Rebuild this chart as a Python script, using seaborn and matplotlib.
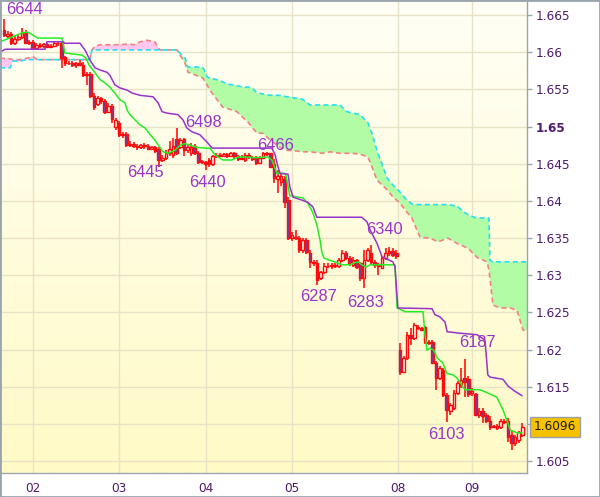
import numpy as np
import matplotlib
matplotlib.use("Agg")
import matplotlib.pyplot as plt
import matplotlib.transforms as mtransforms
from matplotlib.colors import LinearSegmentedColormap
from matplotlib.patches import Rectangle
import seaborn as sns

# hourly candles, bar index 0..144
opens = [1.6630, 1.6622, 1.6624, 1.6612, 1.6618, 1.6620, 1.6626, 1.6613, 1.6614, 1.6606,
         1.6610, 1.6608, 1.6611, 1.6607, 1.6609, 1.6612, 1.6612, 1.6593, 1.6585, 1.6586,
         1.6583, 1.6585, 1.6583, 1.6569, 1.6571, 1.6541, 1.6530, 1.6538, 1.6534, 1.6520,
         1.6528, 1.6500, 1.6505, 1.6488, 1.6490, 1.6475, 1.6477, 1.6474, 1.6472, 1.6475,
         1.6474, 1.6470, 1.6472, 1.6470, 1.6455, 1.6458, 1.6465, 1.6462, 1.6483, 1.6472,
         1.6483, 1.6468, 1.6464, 1.6474, 1.6465, 1.6452, 1.6452, 1.6455, 1.6449, 1.6460,
         1.6462, 1.6461, 1.6463, 1.6461, 1.6464, 1.6460, 1.6456, 1.6455, 1.6462, 1.6459,
         1.6458, 1.6451, 1.6458, 1.6464, 1.6465, 1.6450, 1.6430, 1.6426, 1.6430, 1.6401,
         1.6350, 1.6352, 1.6350, 1.6334, 1.6347, 1.6330, 1.6318, 1.6317, 1.6296, 1.6304,
         1.6313, 1.6312, 1.6314, 1.6312, 1.6320, 1.6330, 1.6323, 1.6314, 1.6320, 1.6316,
         1.6296, 1.6320, 1.6330, 1.6318, 1.6314, 1.6310, 1.6323, 1.6330, 1.6332, 1.6330,
         1.6199, 1.6170, 1.6189, 1.6220, 1.6216, 1.6231, 1.6229, 1.6230, 1.6210, 1.6210,
         1.6182, 1.6162, 1.6172, 1.6139, 1.6118, 1.6122, 1.6142, 1.6152, 1.6162, 1.6161,
         1.6142, 1.6140, 1.6112, 1.6118, 1.6112, 1.6104, 1.6097, 1.6095, 1.6096, 1.6104,
         1.6104, 1.6085, 1.6075, 1.6078, 1.6085]
highs = [1.6644, 1.6628, 1.6627, 1.6622, 1.6624, 1.6632, 1.6630, 1.6617, 1.6616, 1.6612,
         1.6612, 1.6613, 1.6613, 1.6611, 1.6614, 1.6615, 1.6614, 1.6595, 1.6588, 1.6588,
         1.6587, 1.6590, 1.6587, 1.6573, 1.6573, 1.6545, 1.6541, 1.6540, 1.6537, 1.6531,
         1.6530, 1.6512, 1.6508, 1.6493, 1.6492, 1.6480, 1.6479, 1.6476, 1.6477, 1.6478,
         1.6476, 1.6474, 1.6474, 1.6472, 1.6462, 1.6468, 1.6480, 1.6484, 1.6498, 1.6485,
         1.6485, 1.6475, 1.6478, 1.6476, 1.6467, 1.6455, 1.6454, 1.6458, 1.6462, 1.6464,
         1.6464, 1.6465, 1.6465, 1.6466, 1.6466, 1.6462, 1.6462, 1.6464, 1.6464, 1.6461,
         1.6460, 1.6460, 1.6466, 1.6466, 1.6465, 1.6456, 1.6441, 1.6436, 1.6433, 1.6405,
         1.6358, 1.6361, 1.6353, 1.6350, 1.6350, 1.6334, 1.6321, 1.6320, 1.6306, 1.6316,
         1.6316, 1.6316, 1.6316, 1.6323, 1.6334, 1.6333, 1.6326, 1.6324, 1.6322, 1.6318,
         1.6334, 1.6337, 1.6340, 1.6320, 1.6316, 1.6326, 1.6337, 1.6338, 1.6336, 1.6334,
         1.6209, 1.6192, 1.6224, 1.6229, 1.6236, 1.6233, 1.6231, 1.6232, 1.6213, 1.6213,
         1.6185, 1.6178, 1.6175, 1.6142, 1.6128, 1.6146, 1.6158, 1.6175, 1.6188, 1.6165,
         1.6148, 1.6142, 1.6122, 1.6121, 1.6115, 1.6111, 1.6099, 1.6100, 1.6107, 1.6106,
         1.6108, 1.6090, 1.6085, 1.6091, 1.6101]
lows = [1.6620, 1.6618, 1.6610, 1.6610, 1.6615, 1.6618, 1.6611, 1.6610, 1.6604, 1.6604,
        1.6606, 1.6606, 1.6605, 1.6605, 1.6607, 1.6609, 1.6579, 1.6582, 1.6583, 1.6580,
        1.6579, 1.6581, 1.6566, 1.6556, 1.6538, 1.6522, 1.6527, 1.6530, 1.6517, 1.6518,
        1.6505, 1.6496, 1.6486, 1.6485, 1.6472, 1.6473, 1.6471, 1.6469, 1.6470, 1.6470,
        1.6468, 1.6468, 1.6465, 1.6445, 1.6452, 1.6455, 1.6460, 1.6458, 1.6462, 1.6470,
        1.6460, 1.6465, 1.6461, 1.6462, 1.6450, 1.6449, 1.6441, 1.6446, 1.6447, 1.6458,
        1.6459, 1.6459, 1.6458, 1.6459, 1.6457, 1.6454, 1.6455, 1.6452, 1.6457, 1.6453,
        1.6448, 1.6449, 1.6456, 1.6461, 1.6444, 1.6424, 1.6410, 1.6420, 1.6390, 1.6347,
        1.6346, 1.6347, 1.6330, 1.6330, 1.6328, 1.6310, 1.6313, 1.6287, 1.6293, 1.6302,
        1.6310, 1.6309, 1.6310, 1.6310, 1.6318, 1.6320, 1.6312, 1.6311, 1.6308, 1.6292,
        1.6283, 1.6318, 1.6314, 1.6310, 1.6300, 1.6308, 1.6320, 1.6326, 1.6324, 1.6322,
        1.6166, 1.6168, 1.6186, 1.6206, 1.6213, 1.6227, 1.6225, 1.6208, 1.6206, 1.6180,
        1.6146, 1.6159, 1.6136, 1.6103, 1.6112, 1.6119, 1.6139, 1.6149, 1.6136, 1.6136,
        1.6138, 1.6110, 1.6108, 1.6101, 1.6101, 1.6092, 1.6094, 1.6092, 1.6093, 1.6100,
        1.6076, 1.6065, 1.6070, 1.6075, 1.6083]
closes = [1.6623, 1.6625, 1.6612, 1.6618, 1.6620, 1.6626, 1.6613, 1.6614, 1.6606, 1.6610,
          1.6608, 1.6611, 1.6607, 1.6609, 1.6612, 1.6613, 1.6592, 1.6585, 1.6586, 1.6583,
          1.6585, 1.6583, 1.6569, 1.6571, 1.6541, 1.6526, 1.6538, 1.6534, 1.6520, 1.6528,
          1.6510, 1.6509, 1.6488, 1.6490, 1.6475, 1.6477, 1.6474, 1.6472, 1.6475, 1.6474,
          1.6470, 1.6472, 1.6467, 1.6455, 1.6458, 1.6465, 1.6470, 1.6474, 1.6464, 1.6482,
          1.6468, 1.6472, 1.6473, 1.6465, 1.6452, 1.6453, 1.6450, 1.6449, 1.6460, 1.6462,
          1.6461, 1.6463, 1.6461, 1.6464, 1.6460, 1.6456, 1.6458, 1.6462, 1.6459, 1.6456,
          1.6451, 1.6458, 1.6464, 1.6463, 1.6446, 1.6431, 1.6434, 1.6434, 1.6398, 1.6350,
          1.6354, 1.6350, 1.6334, 1.6347, 1.6331, 1.6318, 1.6316, 1.6294, 1.6304, 1.6313,
          1.6312, 1.6314, 1.6312, 1.6320, 1.6330, 1.6323, 1.6316, 1.6320, 1.6311, 1.6296,
          1.6320, 1.6334, 1.6318, 1.6314, 1.6312, 1.6323, 1.6330, 1.6332, 1.6327, 1.6326,
          1.6170, 1.6189, 1.6220, 1.6216, 1.6233, 1.6229, 1.6227, 1.6210, 1.6209, 1.6182,
          1.6162, 1.6175, 1.6139, 1.6119, 1.6125, 1.6142, 1.6155, 1.6159, 1.6156, 1.6140,
          1.6144, 1.6112, 1.6118, 1.6110, 1.6104, 1.6096, 1.6096, 1.6097, 1.6104, 1.6102,
          1.6083, 1.6075, 1.6083, 1.6089, 1.6096]

# conversion line (green)
tenkan_x = [-1.1, 5, 6.7, 8, 9.4, 16.1, 16.9, 21.7, 22.8, 23.6,
            24.7, 25.8, 26.7, 28, 29.4, 30.8, 32.2, 33.6, 34.2, 35,
            36.4, 37.8, 39.2, 40.6, 41.9, 43.3, 44.2, 45.6, 47.5, 48.9,
            50.3, 51.7, 53.6, 55.8, 57.2, 58.6, 60.8, 63.3, 65, 67.5,
            69.7, 73.3, 74.4, 75.3, 75.8, 77.8, 78.3, 79.4, 83, 84.4,
            85.8, 86.9, 87.8, 88.3, 88.9, 90.6, 91.9, 93.9, 96.1, 97.5,
            98.3, 99.4, 100.6, 101.7, 108.6, 109.2, 111.4, 116.4, 116.9, 117.5,
            118.3, 119.4, 120.3, 121.9, 123, 124.7, 125.8, 126.7, 128, 132.2,
            134.2, 136.9, 138.6, 139.7, 140.6, 142.5, 143.9]
tenkan = [1.6614, 1.6626, 1.6627, 1.6623, 1.6619, 1.6619, 1.6599, 1.6596, 1.6592, 1.6583,
          1.6576, 1.6569, 1.6563, 1.6559, 1.6553, 1.6545, 1.6536, 1.6532, 1.6522, 1.6516,
          1.6509, 1.6502, 1.6498, 1.6489, 1.6482, 1.6472, 1.6466, 1.6464, 1.6468, 1.6475,
          1.6477, 1.6475, 1.6472, 1.6471, 1.6471, 1.6462, 1.6455, 1.6455, 1.6459, 1.6459,
          1.6458, 1.6459, 1.6455, 1.6444, 1.6437, 1.6437, 1.6435, 1.6407, 1.6404, 1.6397,
          1.6384, 1.6368, 1.6347, 1.6331, 1.6323, 1.6320, 1.6318, 1.6314, 1.6314, 1.6317,
          1.6318, 1.6314, 1.6311, 1.6314, 1.6314, 1.6256, 1.6251, 1.6251, 1.6222, 1.6199,
          1.6202, 1.6199, 1.6189, 1.6182, 1.6168, 1.6166, 1.6162, 1.6156, 1.6146, 1.6146,
          1.6142, 1.6136, 1.6119, 1.6105, 1.6092, 1.6088, 1.6088]

# base line (purple)
kijun_x = [-1.1, 0.3, 11.4, 11.9, 16.4, 16.9, 21.1, 22.5, 23.9, 25.3,
           26.7, 28.6, 29.4, 30.8, 32.2, 34.2, 35.6, 37.8, 41.4, 42.8,
           43.9, 45.3, 48.3, 49.7, 50.8, 52.2, 54.4, 56.4, 57.8, 74.4,
           75.3, 76.1, 76.7, 78.9, 79.4, 80.3, 82.8, 84.4, 85.8, 86.9,
           99.4, 100.8, 101.7, 103.6, 105, 105.8, 108, 108.6, 109.4, 118.9,
           119.7, 121.1, 122.5, 123.1, 126.7, 131.4, 133.6, 134.4, 135, 138.6,
           140, 141.9, 143.9]
kijun = [1.6600, 1.6604, 1.6604, 1.6614, 1.6614, 1.6612, 1.6612, 1.6603, 1.6589, 1.6579,
         1.6576, 1.6573, 1.6569, 1.6556, 1.6552, 1.6549, 1.6545, 1.6542, 1.6540, 1.6532,
         1.6520, 1.6518, 1.6516, 1.6509, 1.6498, 1.6493, 1.6489, 1.6479, 1.6471, 1.6471,
         1.6462, 1.6446, 1.6437, 1.6436, 1.6419, 1.6405, 1.6401, 1.6398, 1.6392, 1.6378,
         1.6378, 1.6372, 1.6361, 1.6343, 1.6325, 1.6323, 1.6318, 1.6312, 1.6256, 1.6255,
         1.6247, 1.6244, 1.6237, 1.6224, 1.6222, 1.6220, 1.6213, 1.6166, 1.6163, 1.6160,
         1.6151, 1.6144, 1.6138]

# cloud spans
cloud_x = [-1.1, 1.7, 2.5, 4.4, 6.4, 8.1, 9.2, 23.9, 24.4, 25.3,
           26.7, 32.2, 34.2, 36.4, 37.8, 39.7, 41.9, 43.3, 48.1, 49.4,
           50.3, 51.1, 54.4, 55.3, 56.4, 57.2, 59.2, 60.8, 62.2, 64.7,
           66.4, 67.8, 68.9, 70.3, 71.9, 73.9, 76.7, 78.6, 81.4, 82.8,
           85.0, 88.6, 90.6, 93.3, 95.3, 96.9, 98.9, 101.1, 102.2, 103.6,
           106.4, 108.1, 110.0, 111.9, 113.3, 114.7, 115.6, 118.3, 120.6, 123.3,
           125.8, 128.1, 129.4, 131.4, 134.2, 134.7, 135.0, 135.8, 137.8, 140.6,
           142.5, 143.3, 144.2, 145.3]
span_a = [1.6579, 1.6579, 1.6588, 1.6588, 1.6590, 1.6590, 1.6590, 1.6590, 1.6603, 1.6603,
          1.6603, 1.6603, 1.6603, 1.6603, 1.6603, 1.6603, 1.6603, 1.6603, 1.6603, 1.6596,
          1.6592, 1.6580, 1.6580, 1.6579, 1.6567, 1.6565, 1.6563, 1.6560, 1.6557, 1.6555,
          1.6553, 1.6553, 1.6552, 1.6545, 1.6544, 1.6542, 1.6542, 1.6540, 1.6538, 1.6537,
          1.6529, 1.6529, 1.6529, 1.6529, 1.6520, 1.6518, 1.6516, 1.6505, 1.6491, 1.6468,
          1.6431, 1.6421, 1.6412, 1.6401, 1.6396, 1.6395, 1.6395, 1.6395, 1.6395, 1.6395,
          1.6393, 1.6384, 1.6380, 1.6377, 1.6377, 1.6377, 1.6320, 1.6318, 1.6318, 1.6318,
          1.6318, 1.6318, 1.6318, 1.6318]
span_b = [1.6592, 1.6591, 1.6590, 1.6590, 1.6592, 1.6594, 1.6590, 1.6590, 1.6603, 1.6608,
          1.6610, 1.6610, 1.6611, 1.6610, 1.6614, 1.6616, 1.6614, 1.6603, 1.6603, 1.6592,
          1.6585, 1.6573, 1.6567, 1.6565, 1.6556, 1.6549, 1.6536, 1.6526, 1.6524, 1.6520,
          1.6512, 1.6506, 1.6499, 1.6491, 1.6491, 1.6482, 1.6472, 1.6468, 1.6467, 1.6466,
          1.6466, 1.6464, 1.6466, 1.6464, 1.6464, 1.6464, 1.6463, 1.6459, 1.6446, 1.6428,
          1.6415, 1.6405, 1.6397, 1.6385, 1.6377, 1.6361, 1.6351, 1.6350, 1.6345, 1.6350,
          1.6343, 1.6338, 1.6334, 1.6324, 1.6318, 1.6307, 1.6296, 1.6260, 1.6256, 1.6256,
          1.6253, 1.6240, 1.6226, 1.6226]

day_ticks = [8, 32, 56, 80, 109.5, 130]
day_labels = ["02", "03", "04", "05", "08", "09"]
price_ticks = [1.605, 1.61, 1.615, 1.62, 1.625, 1.63, 1.635, 1.64,
               1.645, 1.65, 1.655, 1.66, 1.665]

note_text = ["6644", "6498", "6445", "6440", "6466", "6287", "6283", "6340", "6187", "6103"]
note_x = [5.6, 55.3, 39.4, 56.6, 75.3, 87.5, 100.3, 105.6, 131.4, 122.8]
note_y = [1.6658, 1.6506, 1.6438, 1.6425, 1.6475, 1.6271, 1.6263, 1.6362, 1.6209, 1.6086]

last_price = 1.6096

sns.set_style("white")
fig = plt.figure(figsize=(6, 4.97), dpi=100)
ax = fig.add_axes([0, 24 / 497, 527 / 600, 473 / 497])
x0, x1 = -1.11, 145.28
y0, y1 = 1.6034, 1.66702

bg = LinearSegmentedColormap.from_list("bg", ["#FFFAC6", "#FFFFF6"])
ax.imshow(np.linspace(0, 1, 256).reshape(-1, 1), extent=[x0, x1, y0, y1],
          origin="lower", aspect="auto", cmap=bg, zorder=0)
ax.set_axisbelow(True)
ax.grid(True, color="#E6E3C6", lw=1)

# cloud
ca = np.array(span_a)
cb = np.array(span_b)
ax.fill_between(cloud_x, ca, cb, where=ca >= cb, interpolate=True,
                color="#B3FCA6", lw=0, zorder=1)
ax.fill_between(cloud_x, ca, cb, where=ca < cb, interpolate=True,
                color="#FFC6EE", lw=0, zorder=1)
sns.lineplot(x=cloud_x, y=span_b, ax=ax, color="#F08282", lw=1.2,
             linestyle=(0, (3, 2)), estimator=None, sort=False, zorder=2)
sns.lineplot(x=cloud_x, y=span_a, ax=ax, color="#22E0F0", lw=1.2,
             linestyle=(0, (3, 2)), estimator=None, sort=False, zorder=2)

# candles
o = np.array(opens)
h = np.array(highs)
l = np.array(lows)
c = np.array(closes)
idx = np.arange(len(o))
up = c >= o
ax.vlines(idx, l, h, color="#FF0000", lw=1.1, zorder=3)
ax.bar(idx, np.abs(c - o), bottom=np.minimum(o, c), width=0.72,
       color=np.where(up, "#FFFFF2", "#6E3F9E"), edgecolor="#FF0A0A",
       linewidth=1.0, zorder=4)

sns.lineplot(x=tenkan_x, y=tenkan, ax=ax, color="#22EE22", lw=1.1,
             estimator=None, sort=False, zorder=5)
sns.lineplot(x=kijun_x, y=kijun, ax=ax, color="#9933CC", lw=1.1,
             estimator=None, sort=False, zorder=5)

for t, xx, yy in zip(note_text, note_x, note_y):
    ax.text(xx, yy, t, color="#9933CC", fontsize=11.8, family="Liberation Sans",
            ha="center", va="center", zorder=6)

ax.set_xlim(x0, x1)
ax.set_ylim(y0, y1)
ax.set_xlabel("")
ax.set_ylabel("")

ax.yaxis.tick_right()
ax.set_yticks(price_ticks)
ylabs = ["" if abs(v - 1.61) < 1e-9 else f"{v:.3f}".rstrip("0") for v in price_ticks]
ax.set_yticklabels(ylabs)
for lab in ax.get_yticklabels():
    if lab.get_text() == "1.65":
        lab.set_fontweight("bold")
ax.set_xticks(day_ticks)
ax.set_xticklabels(day_labels)
ax.tick_params(axis="both", direction="out", length=3.5, width=1, color="#9AA5AE",
               labelcolor="#4E1A6E", labelsize=8.7)
ax.tick_params(axis="y", pad=2.5)
ax.tick_params(axis="x", pad=3)
for s in ax.spines.values():
    s.set_color("#9AA5AE")
    s.set_linewidth(1)

trans = mtransforms.blended_transform_factory(ax.transAxes, ax.transData)
ax.text(1.0 + 7 / 527, last_price, f"{last_price:.4f}", transform=trans,
        ha="left", va="center", fontsize=8.7, color="#1A1A1A", clip_on=False,
        bbox=dict(boxstyle="square,pad=0.3", fc="#F6C200", ec="#9AA0A6", lw=1),
        zorder=10)

fig.patches.append(Rectangle((0, 0), 1, 1, transform=fig.transFigure, fill=False,
                             ec="#9AA5AE", lw=2))

fig.savefig("out.png", dpi=100)
